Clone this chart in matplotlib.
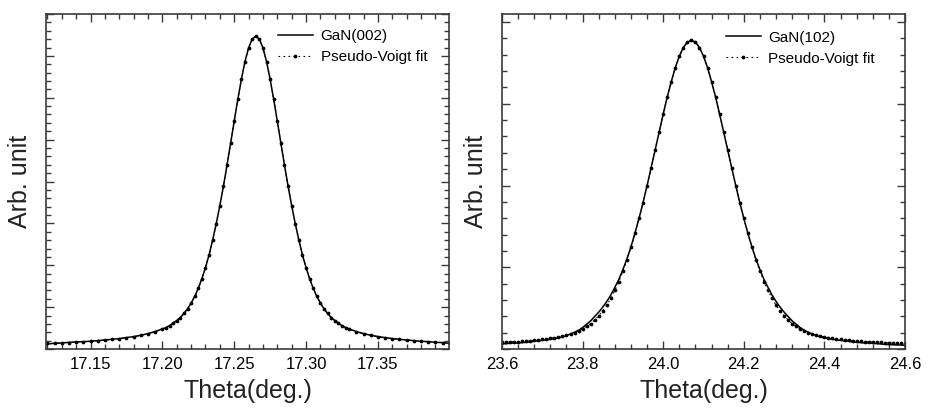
import matplotlib
matplotlib.use("Agg")
import matplotlib.pyplot as plt
from matplotlib.ticker import MultipleLocator, FormatStrFormatter

plt.rcParams['font.family'] = ['Liberation Sans', 'DejaVu Sans']

# GaN(002) rocking curve, theta in degrees
theta002 = [17.120, 17.125, 17.130, 17.135, 17.140, 17.145, 17.150, 17.155,
            17.160, 17.165, 17.170, 17.175, 17.180, 17.185, 17.190, 17.195,
            17.2000, 17.2025, 17.2050, 17.2075, 17.2100, 17.2125, 17.2150,
            17.2175, 17.2200, 17.2225, 17.2250, 17.2275, 17.2300, 17.2325,
            17.2350, 17.2375, 17.2400, 17.2425, 17.2450, 17.2475, 17.2500,
            17.2525, 17.2550, 17.2575, 17.2600, 17.2625, 17.2650, 17.2675,
            17.2700, 17.2725, 17.2750, 17.2775, 17.2800, 17.2825, 17.2850,
            17.2875, 17.2900, 17.2925, 17.2950, 17.2975, 17.3000, 17.3025,
            17.3050, 17.3075, 17.3100, 17.3125, 17.3150, 17.3175, 17.3200,
            17.3225, 17.3250, 17.3275, 17.3300,
            17.335, 17.340, 17.345, 17.350, 17.355, 17.360, 17.365, 17.370,
            17.375, 17.380, 17.385, 17.390, 17.395, 17.400]

gan002 = [0.015, 0.017, 0.018, 0.020, 0.021, 0.022, 0.023, 0.025,
          0.027, 0.029, 0.031, 0.034, 0.037, 0.041, 0.046, 0.052,
          0.060, 0.064, 0.070, 0.077, 0.085, 0.094, 0.106, 0.120, 0.137,
          0.157, 0.181, 0.210, 0.243, 0.281, 0.325, 0.374, 0.428, 0.486,
          0.549, 0.614, 0.680, 0.745, 0.805, 0.858, 0.899, 0.925, 0.934,
          0.925, 0.899, 0.858, 0.805, 0.745, 0.680, 0.614, 0.549, 0.486,
          0.428, 0.374, 0.325, 0.281, 0.243, 0.210, 0.181, 0.157, 0.137,
          0.120, 0.106, 0.094, 0.085, 0.077, 0.070, 0.064, 0.060,
          0.052, 0.046, 0.041, 0.037, 0.034, 0.031, 0.029, 0.027,
          0.025, 0.023, 0.022, 0.020, 0.019, 0.017]

fit002 = [0.0166, 0.0174, 0.0183, 0.0193, 0.0205, 0.0217, 0.0232, 0.0248,
          0.0266, 0.0287, 0.0311, 0.0339, 0.0372, 0.0411, 0.0459, 0.0518,
          0.060, 0.064, 0.070, 0.077, 0.085, 0.094, 0.106, 0.120, 0.137,
          0.157, 0.181, 0.210, 0.243, 0.281, 0.325, 0.374, 0.428, 0.486,
          0.549, 0.614, 0.680, 0.745, 0.805, 0.858, 0.899, 0.925, 0.934,
          0.925, 0.899, 0.858, 0.805, 0.745, 0.680, 0.614, 0.549, 0.486,
          0.428, 0.374, 0.325, 0.281, 0.243, 0.210, 0.181, 0.157, 0.137,
          0.120, 0.106, 0.094, 0.085, 0.077, 0.070, 0.064, 0.060,
          0.0518, 0.0459, 0.0411, 0.0372, 0.0339, 0.0311, 0.0287, 0.0266,
          0.0248, 0.0232, 0.0217, 0.0205, 0.0193, 0.0183]

# GaN(102) rocking curve
theta102 = [23.60, 23.61, 23.62, 23.63, 23.64, 23.65, 23.66, 23.67, 23.68, 23.69,
            23.70, 23.71, 23.72, 23.73, 23.74, 23.75, 23.76, 23.77, 23.78, 23.79,
            23.80, 23.81, 23.82, 23.83, 23.84, 23.85, 23.86, 23.87, 23.88, 23.89,
            23.90, 23.91, 23.92, 23.93, 23.94, 23.95, 23.96, 23.97, 23.98, 23.99,
            24.00, 24.01, 24.02, 24.03, 24.04, 24.05, 24.06, 24.07, 24.08, 24.09,
            24.10, 24.11, 24.12, 24.13, 24.14, 24.15, 24.16, 24.17, 24.18, 24.19,
            24.20, 24.21, 24.22, 24.23, 24.24, 24.25, 24.26, 24.27, 24.28, 24.29,
            24.30, 24.31, 24.32, 24.33, 24.34, 24.35, 24.36, 24.37, 24.38, 24.39,
            24.40, 24.41, 24.42, 24.43, 24.44, 24.45, 24.46, 24.47, 24.48, 24.49,
            24.50, 24.51, 24.52, 24.53, 24.54, 24.55, 24.56, 24.57, 24.58, 24.59,
            24.60]

gan102 = [0.015, 0.016, 0.017, 0.018, 0.018, 0.019, 0.020, 0.021, 0.023, 0.024,
          0.026, 0.027, 0.029, 0.031, 0.033, 0.036, 0.040, 0.045, 0.050, 0.056,
          0.064, 0.074, 0.084, 0.097, 0.110, 0.125, 0.142, 0.161, 0.184, 0.208,
          0.237, 0.269, 0.305, 0.346, 0.390, 0.437, 0.488, 0.541, 0.594, 0.648,
          0.701, 0.752, 0.798, 0.840, 0.874, 0.900, 0.916, 0.921, 0.916, 0.900,
          0.874, 0.840, 0.798, 0.752, 0.701, 0.648, 0.594, 0.541, 0.488, 0.437,
          0.390, 0.346, 0.305, 0.269, 0.237, 0.208, 0.184, 0.161, 0.142, 0.125,
          0.110, 0.097, 0.084, 0.074, 0.064, 0.056, 0.050, 0.045, 0.040, 0.036,
          0.033, 0.031, 0.029, 0.027, 0.026, 0.024, 0.023, 0.021, 0.020, 0.019,
          0.018, 0.018, 0.017, 0.016, 0.015, 0.014, 0.013, 0.013, 0.012, 0.012,
          0.011]

fit102 = [0.0195, 0.020, 0.021, 0.022, 0.022, 0.023, 0.024, 0.025, 0.026, 0.027,
          0.029, 0.030, 0.032, 0.034, 0.036, 0.038, 0.041, 0.045, 0.049, 0.054,
          0.060, 0.068, 0.076, 0.087, 0.099, 0.114, 0.131, 0.151, 0.175, 0.201,
          0.232, 0.266, 0.303, 0.345, 0.390, 0.437, 0.488, 0.541, 0.594, 0.648,
          0.701, 0.752, 0.798, 0.840, 0.874, 0.900, 0.916, 0.921, 0.916, 0.900,
          0.874, 0.840, 0.798, 0.752, 0.701, 0.648, 0.594, 0.541, 0.488, 0.437,
          0.390, 0.345, 0.303, 0.266, 0.232, 0.201, 0.175, 0.151, 0.131, 0.114,
          0.099, 0.087, 0.076, 0.068, 0.060, 0.054, 0.049, 0.045, 0.041, 0.038,
          0.036, 0.034, 0.032, 0.030, 0.029, 0.027, 0.026, 0.025, 0.024, 0.023,
          0.022, 0.022, 0.021, 0.020, 0.0195, 0.019, 0.018, 0.018, 0.017, 0.017,
          0.016]

spine_col = '#3a3a3a'

fig = plt.figure(figsize=(9.33, 4.09), dpi=100)
ax1 = fig.add_axes([46 / 933, 60 / 409, 403 / 933, 335 / 409])
ax2 = fig.add_axes([502 / 933, 60 / 409, 403 / 933, 335 / 409])


def style_axis(ax, xmaj, xmin, ymaj, ymin, fmt):
    for s in ax.spines.values():
        s.set_color(spine_col)
        s.set_linewidth(1.2)
    ax.xaxis.set_major_locator(MultipleLocator(xmaj))
    ax.xaxis.set_minor_locator(MultipleLocator(xmin))
    ax.yaxis.set_major_locator(MultipleLocator(ymaj))
    ax.yaxis.set_minor_locator(MultipleLocator(ymin))
    ax.xaxis.set_major_formatter(FormatStrFormatter(fmt))
    ax.tick_params(which='both', direction='in', top=True, right=True,
                   color=spine_col, width=1.0, labelleft=False)
    ax.tick_params(which='major', length=6, labelsize=12, pad=6)
    ax.tick_params(which='minor', length=3.5)
    ax.set_ylabel('Arb. unit', fontsize=18, labelpad=10, color='#222222')
    ax.set_xlabel('Theta(deg.)', fontsize=18, labelpad=5, color='#222222')


# left panel
ax1.plot(theta002, gan002, color='black', lw=1.1, label='GaN(002)')
ax1.plot(theta002, fit002, color='black', lw=0.8, linestyle=(0, (1.5, 3)),
         marker='o', markersize=1.7, label='Pseudo-Voigt fit')
ax1.set_xlim(17.119, 17.3995)
ax1.set_ylim(0, 1)
style_axis(ax1, 0.05, 0.01, 0.125, 0.025, '%.2f')
ax1.legend(loc='upper left', bbox_to_anchor=(0.575, 0.955), frameon=False,
           fontsize=11, handlelength=2.3, handletextpad=0.5, labelspacing=0.45,
           borderpad=0, borderaxespad=0)

# right panel
ax2.plot(theta102, gan102, color='black', lw=1.1, label='GaN(102)')
ax2.plot(theta102, fit102, color='black', lw=0.8, linestyle=(0, (1.5, 3)),
         marker='o', markersize=1.7, label='Pseudo-Voigt fit')
ax2.set_xlim(23.6, 24.6)
ax2.set_ylim(0, 1)
style_axis(ax2, 0.2, 0.04, 0.244, 0.0488, '%.1f')
ax2.legend(loc='upper left', bbox_to_anchor=(0.555, 0.95), frameon=False,
           fontsize=11, handlelength=2.3, handletextpad=0.5, labelspacing=0.45,
           borderpad=0, borderaxespad=0)

fig.savefig('out.png', dpi=100)
